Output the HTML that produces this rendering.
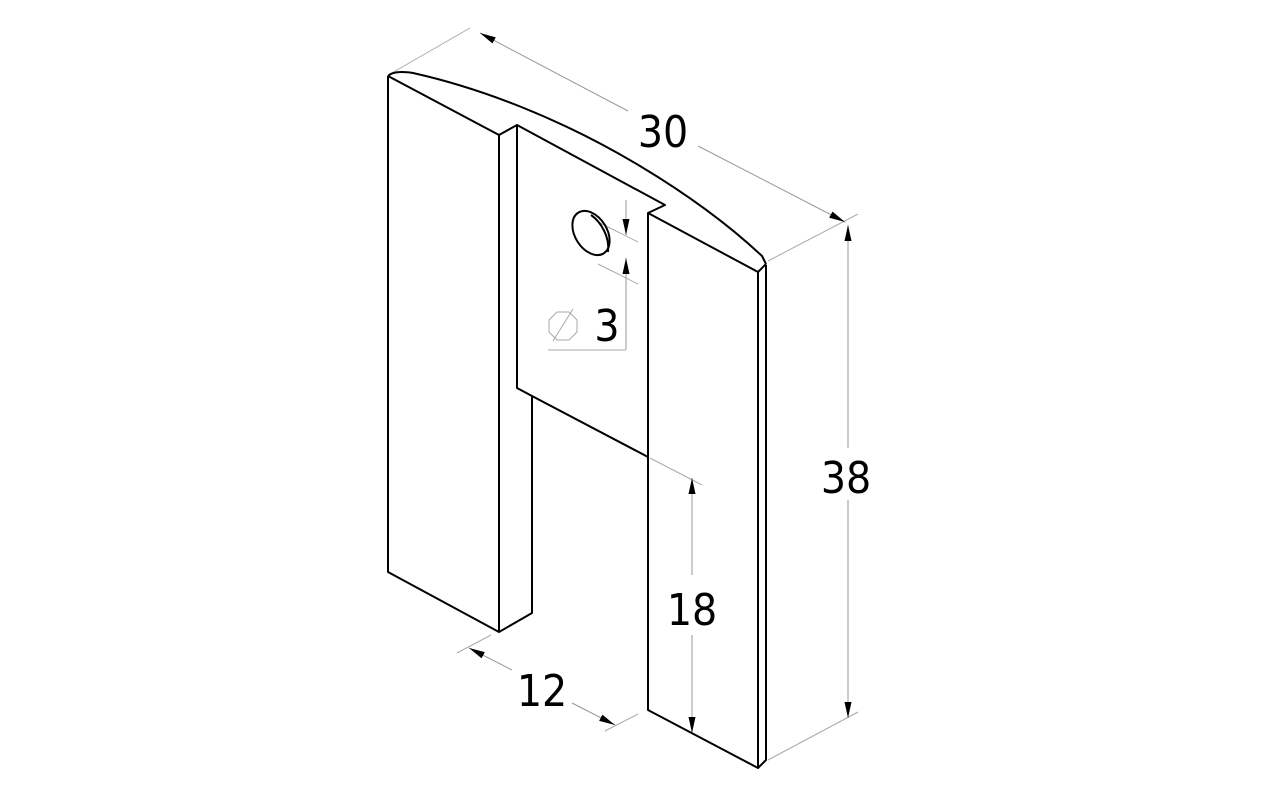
<!DOCTYPE html>
<html><head><style>html,body{margin:0;padding:0;background:#fff;}svg{display:block}</style></head>
<body>
<svg width="1280" height="799" viewBox="0 0 1280 799" xmlns="http://www.w3.org/2000/svg">
<defs>
<marker id="a" viewBox="0 0 16 10" refX="16" refY="5" markerWidth="16" markerHeight="10" orient="auto-start-reverse" markerUnits="userSpaceOnUse"><path d="M0,1.5 L16,5 L0,8.5 Z" fill="#000"/></marker>
</defs>
<g stroke="#aaa" stroke-width="1" fill="none">
<line x1="390" y1="74" x2="470" y2="28"/>
<line x1="768" y1="261" x2="858" y2="214"/>
<line x1="480" y1="33" x2="628" y2="111" marker-start="url(#a)" stroke="#999"/>
<line x1="698" y1="146" x2="845" y2="222" marker-end="url(#a)" stroke="#999"/>
<line x1="768" y1="760" x2="858" y2="712"/>
<line x1="848" y1="225" x2="848" y2="448" marker-start="url(#a)" stroke="#999"/>
<line x1="848" y1="500" x2="848" y2="718" marker-end="url(#a)" stroke="#999"/>
<line x1="650" y1="458" x2="702" y2="485"/>
<line x1="692" y1="478" x2="692" y2="575" marker-start="url(#a)" stroke="#999"/>
<line x1="692" y1="635" x2="692" y2="733" marker-end="url(#a)" stroke="#999"/>
<line x1="457" y1="653" x2="491" y2="635"/>
<line x1="605" y1="731" x2="638" y2="714"/>
<line x1="469" y1="648" x2="512" y2="670" marker-start="url(#a)" stroke="#999"/>
<line x1="572" y1="703" x2="615" y2="725" marker-end="url(#a)" stroke="#999"/>
<line x1="598" y1="222" x2="638" y2="242"/>
<line x1="598" y1="264" x2="638" y2="284"/>
<line x1="626" y1="200" x2="626" y2="235" marker-end="url(#a)" stroke="#999"/>
<line x1="626" y1="258" x2="626" y2="350" marker-start="url(#a)" stroke="#999"/>
<line x1="548" y1="350" x2="626" y2="350"/>
<polygon points="557,312 569,312 577,320 577,332 569,340 557,340 549,332 549,320"/>
<line x1="553" y1="341" x2="573" y2="309"/>
</g>
<g stroke="#000" stroke-width="2" fill="none" stroke-linejoin="round">
<path d="M388,76 L388,572 L499,632 L532,613 L532,396"/>
<path d="M388,76 L499,135 L517,125 L517,388 L532,396 L648,457"/>
<line x1="499" y1="135" x2="499" y2="632"/>
<path d="M517,125 L665,205 L648,213 L648,710 L758,768 L766,760 L766,265"/>
<path d="M648,213 L758,272 L758,768"/>
<path d="M758,272 L766,264"/>
<path d="M388,76 C392,72 400,71 413,73 C480,88 560,118 640,166 C690,196 730,226 762,256 L766,264"/>
<ellipse cx="591" cy="233" rx="16" ry="24" transform="rotate(-32 591 233)"/>
<path d="M591,215 C601,222 610,237 608,252"/>
</g>
<g font-family="'DejaVu Sans Condensed','DejaVu Sans','Liberation Sans Narrow',sans-serif" font-size="44" fill="#000" text-anchor="middle" font-stretch="condensed">
<text x="663" y="147">30</text>
<text x="846" y="493">38</text>
<text x="692" y="625">18</text>
<text x="542" y="706">12</text>
<text x="607" y="341">3</text>
</g>
</svg>
</body></html>
